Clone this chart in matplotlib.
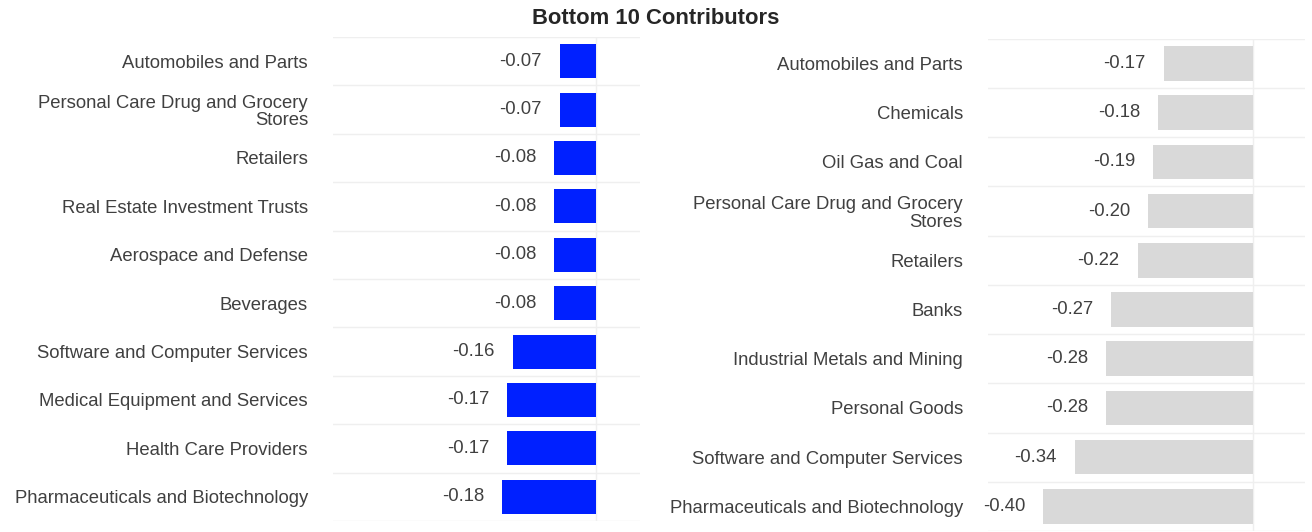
import matplotlib
matplotlib.use("Agg")
import matplotlib.pyplot as plt

plt.rcParams['font.family'] = ['Liberation Sans', 'DejaVu Sans']

# left panel
left_names = ["Automobiles and Parts", "Personal Care Drug and Grocery\nStores", "Retailers",
              "Real Estate Investment Trusts", "Aerospace and Defense", "Beverages",
              "Software and Computer Services", "Medical Equipment and Services",
              "Health Care Providers", "Pharmaceuticals and Biotechnology"]
left_vals = [-0.07, -0.07, -0.08, -0.08, -0.08, -0.08, -0.16, -0.17, -0.17, -0.18]

# right panel
right_names = ["Automobiles and Parts", "Chemicals", "Oil Gas and Coal",
               "Personal Care Drug and Grocery\nStores", "Retailers", "Banks",
               "Industrial Metals and Mining", "Personal Goods",
               "Software and Computer Services", "Pharmaceuticals and Biotechnology"]
right_vals = [-0.17, -0.18, -0.19, -0.20, -0.22, -0.27, -0.28, -0.28, -0.34, -0.40]

TXT = '#404040'
GRID = '#efefef'
FS = 13.3


def panel(ax, names, vals, color, xlim):
    n = len(vals)
    ys = list(range(n))
    ax.barh(ys, vals, height=0.7, color=color, zorder=2)
    for y, v in zip(ys, vals):
        ax.annotate(f"{v:.2f}", (v, y), xytext=(-13, 0), textcoords='offset points',
                    ha='right', va='center', fontsize=FS, color=TXT)
    ax.set_ylim(n - 0.5, -0.5)
    ax.set_xlim(*xlim)
    ax.set_yticks(ys)
    ax.set_yticklabels(names, fontsize=FS, color=TXT, ha='right', linespacing=1.05)
    ax.set_yticks([i - 0.5 for i in range(n + 1)], minor=True)
    ax.tick_params(axis='y', which='both', length=0, pad=18)
    ax.set_xticks([0])
    ax.set_xticklabels([])
    ax.tick_params(axis='x', length=0)
    ax.grid(axis='y', which='minor', color=GRID, linewidth=1)
    ax.grid(axis='x', which='major', color=GRID, linewidth=1)
    ax.set_axisbelow(True)
    for s in ax.spines.values():
        s.set_visible(False)


fig = plt.figure(figsize=(13.12, 5.32), dpi=100)
ax1 = fig.add_axes([0.2538, 0.0207, 0.234, 0.9098])
ax2 = fig.add_axes([0.7530, 0.002, 0.2416, 0.925])

panel(ax1, left_names, left_vals, '#0020ff', (-0.504, 0.084))
panel(ax2, right_names, right_vals, '#d9d9d9', (-0.506, 0.10))

fig.text(0.5, 0.966, "Bottom 10 Contributors", ha='center', va='center',
         fontsize=15.8, fontweight='bold', color='#262626')

fig.savefig("out.png", dpi=100)
